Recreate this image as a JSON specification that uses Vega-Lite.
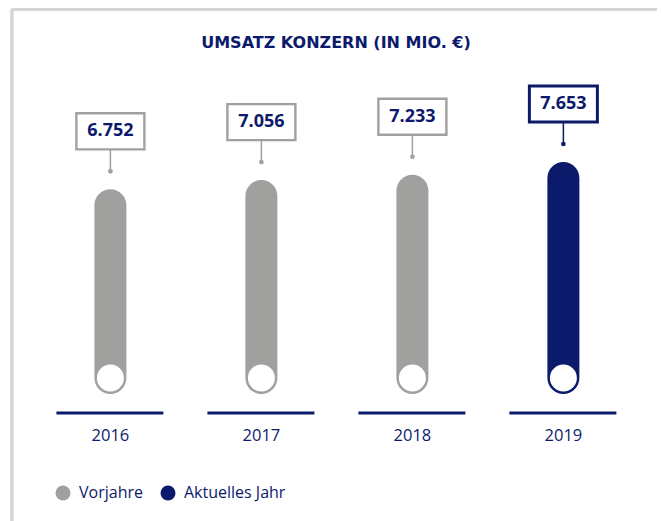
{
  "$schema": "https://vega.github.io/schema/vega-lite/v6.json",
  "width": 662,
  "height": 521,
  "autosize": {"type": "none"},
  "padding": 0,
  "background": "white",
  "config": {"view": {"stroke": null}},
  "title": {
    "text": "UMSATZ KONZERN (IN MIO. €)",
    "anchor": "middle",
    "frame": "group",
    "offset": -64,
    "dx": 5,
    "baseline": "alphabetic",
    "font": "DejaVu Sans",
    "fontWeight": "bold",
    "fontSize": 16,
    "color": "#0c1a6b"
  },
  "data": {
    "values": [
      {"year": 2016, "value": 6752, "label": "6.752", "type": "Vorjahre"},
      {"year": 2017, "value": 7056, "label": "7.056", "type": "Vorjahre"},
      {"year": 2018, "value": 7233, "label": "7.233", "type": "Vorjahre"},
      {"year": 2019, "value": 7653, "label": "7.653", "type": "Aktuelles Jahr"}
    ]
  },
  "encoding": {
    "x": {"field": "year", "type": "quantitative", "scale": {"domain": [2015.302, 2019.62], "nice": false, "zero": false}, "axis": null},
    "y": {"field": "value", "type": "quantitative", "scale": {"domain": [-4189, 12997], "nice": false, "zero": false}, "axis": null}
  },
  "layer": [
    {
      "mark": {"type": "rule", "color": "#d4d4d4", "strokeWidth": 2.5},
      "encoding": {
        "x": {"datum": 2015.348, "type": "quantitative"},
        "x2": {"datum": 2019.62},
        "y": {"datum": 12690, "type": "quantitative"},
        "y2": {"datum": 12690}
      }
    },
    {
      "mark": {"type": "rule", "color": "#d4d4d4", "strokeWidth": 2.5},
      "encoding": {
        "x": {"datum": 2015.348, "type": "quantitative"},
        "x2": {"datum": 2015.348},
        "y": {"datum": 12690, "type": "quantitative"},
        "y2": {"datum": -4189}
      }
    },
    {
      "mark": {"type": "bar", "width": 32, "cornerRadius": 16},
      "encoding": {
        "y2": {"datum": 0},
        "color": {
          "field": "type",
          "type": "nominal",
          "scale": {"domain": ["Vorjahre", "Aktuelles Jahr"], "range": ["#a0a19f", "#0c1a6b"]},
          "legend": {
            "title": null,
            "orient": "none",
            "legendX": 55,
            "legendY": 485,
            "direction": "horizontal",
            "symbolType": "circle",
            "symbolSize": 225,
            "symbolStrokeWidth": 0,
            "symbolOpacity": 1,
            "labelFont": "Open Sans",
            "labelFontSize": 16,
            "labelColor": "#0c1a6b",
            "labelOffset": 8,
            "columnPadding": 17,
            "padding": 0
          }
        }
      }
    },
    {
      "mark": {"type": "point", "shape": "circle", "filled": true, "fill": "white", "color": "white", "opacity": 1, "size": 729},
      "encoding": {"y": {"datum": 528, "type": "quantitative"}}
    },
    {
      "mark": {"type": "rule", "color": "#0c1a6b", "strokeWidth": 3, "xOffset": -54, "x2Offset": 53},
      "encoding": {
        "x2": {"field": "year"},
        "y": {"datum": -627, "type": "quantitative"}
      }
    },
    {
      "mark": {"type": "rule", "strokeWidth": 1.5, "yOffset": -40, "y2Offset": -18},
      "encoding": {
        "y2": {"field": "value"},
        "color": {"condition": {"test": "datum.year === 2019", "value": "#0c1a6b"}, "value": "#a0a19f"}
      }
    },
    {
      "mark": {"type": "point", "shape": "circle", "filled": true, "size": 22, "opacity": 1, "yOffset": -18},
      "encoding": {
        "color": {"condition": {"test": "datum.year === 2019", "value": "#0c1a6b"}, "value": "#a0a19f"}
      }
    },
    {
      "mark": {"type": "point", "shape": "M-1,-0.53L1,-0.53L1,0.53L-1,0.53Z", "filled": false, "fill": "white", "fillOpacity": 1, "opacity": 1, "size": 4624, "yOffset": -58},
      "encoding": {
        "stroke": {"condition": {"test": "datum.year === 2019", "value": "#0c1a6b"}, "value": "#a0a19f"},
        "strokeWidth": {"condition": {"test": "datum.year === 2019", "value": 3}, "value": 2.4}
      }
    },
    {
      "mark": {"type": "text", "font": "Open Sans", "fontWeight": "bold", "fontSize": 18, "color": "#0c1a6b", "baseline": "middle", "align": "center", "yOffset": -58},
      "encoding": {"text": {"field": "label"}}
    },
    {
      "mark": {"type": "text", "font": "Open Sans", "fontSize": 16.5, "color": "#0c1a6b", "baseline": "middle", "align": "center"},
      "encoding": {
        "y": {"datum": -1385, "type": "quantitative"},
        "text": {"field": "year", "type": "quantitative", "format": "d"}
      }
    }
  ]
}
